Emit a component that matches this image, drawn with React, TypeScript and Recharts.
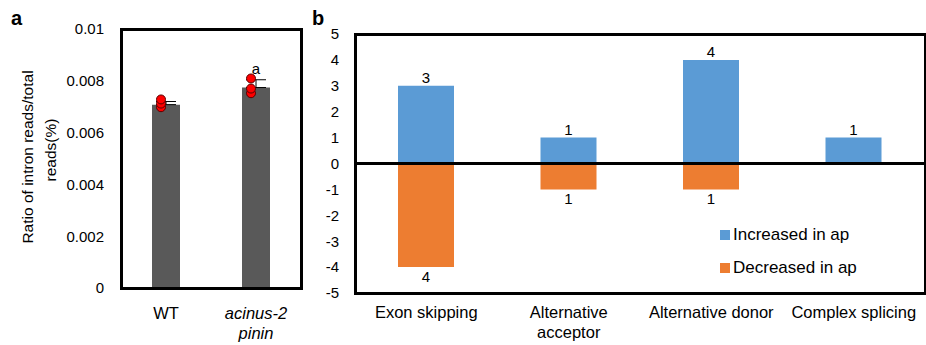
import {
  Bar,
  ComposedChart,
  ErrorBar,
  LabelList,
  ReferenceLine,
  Scatter,
  XAxis,
  YAxis,
} from "recharts";

// panel a: intron read ratio
const GROUPS = ["WT", "acinus-2\npinin"];
const GROUP_ITALIC = [false, true];
const RATIO = [0.00708, 0.00774];
const RATIO_ERR = [0.00012, 0.0003];
const REP1 = [0.00728, 0.00809];
const REP2 = [0.00712, 0.0077];
const REP3 = [0.00698, 0.00752];
const SIG = ["", "a"];
const RATIO_TICKS = [0, 0.002, 0.004, 0.006, 0.008, 0.01];

// panel b: splicing events
const EVENTS = ["Exon skipping", "Alternative\nacceptor", "Alternative donor", "Complex splicing"];
const INCREASED = [3, 1, 4, 1];
const DECREASED = [4, 1, 1, 0];
const COUNT_TICKS = [-5, -4, -3, -2, -1, 0, 1, 2, 3, 4, 5];
const SERIES_NAMES = ["Increased in ap", "Decreased in ap"];

const FONT = '"Liberation Sans", Arial, sans-serif';
const BLUE = "#5B9BD5";
const ORANGE = "#ED7D31";
const SERIES_COLORS = [BLUE, ORANGE];

const H = 345;

// layout of the two panels (chart box, margins, axis sizes)
const A = { left: 0, width: 310, top: 29, right: 9, yAxisW: 121, xAxisH: 57 };
const B = { left: 300, width: 626, top: 34, right: 1, yAxisW: 55, xAxisH: 52 };

const dataA = GROUPS.map((name, i) => ({
  name,
  ratio: RATIO[i],
  err: [0, RATIO_ERR[i]],
  r1: REP1[i],
  r2: REP2[i],
  r3: REP3[i],
  sig: SIG[i],
}));

const dataB = EVENTS.map((name, i) => ({
  name,
  inc: INCREASED[i] || null,
  dec: DECREASED[i] ? -DECREASED[i] : null,
}));

// black box round a plot area, four filled strips computed from the panel layout
function PlotFrame({ p }: { p: typeof A }) {
  const bw = 3;
  const x0 = Math.round(p.left + p.yAxisW - bw / 2);
  const x1 = Math.round(p.left + p.width - p.right - bw / 2);
  const y0 = Math.round(p.top - bw / 2);
  const y1 = Math.round(H - p.xAxisH - bw / 2);
  const strip = (left: number, top: number, width: number, height: number) => (
    <div
      style={{
        position: "absolute",
        left,
        top,
        width,
        height,
        background: "#000",
      }}
    />
  );
  return (
    <>
      {strip(x0, y0, x1 - x0 + bw, bw)}
      {strip(x0, y1, x1 - x0 + bw, bw)}
      {strip(x0, y0, bw, y1 - y0 + bw)}
      {strip(x1, y0, bw, y1 - y0 + bw)}
    </>
  );
}

function MultiLineTick({
  x,
  y,
  payload,
  dy0,
  italicFor,
}: {
  x?: number;
  y?: number;
  payload?: { value: string };
  dy0: number;
  italicFor?: (v: string) => boolean;
}) {
  const value = payload?.value ?? "";
  const lines = value.split("\n");
  const italic = italicFor ? italicFor(value) : false;
  return (
    <text
      x={x}
      y={(y ?? 0) + dy0}
      textAnchor="middle"
      fontSize={16.5}
      fontFamily={FONT}
      fontStyle={italic ? "italic" : "normal"}
      fill="#000"
    >
      {lines.map((l, k) => (
        <tspan key={k} x={x} dy={k === 0 ? 0 : 20}>
          {l}
        </tspan>
      ))}
    </text>
  );
}

function Dot(props: { cx?: number; cy?: number }) {
  if (props.cx == null || props.cy == null) return null;
  return (
    <circle cx={props.cx - 5} cy={props.cy} r={4.5} fill="#FF0000" stroke="#5a0000" strokeWidth={1} />
  );
}

const absLabel = (v: unknown) => (v == null || v === 0 ? "" : String(Math.abs(Number(v))));

export default function App() {
  return (
    <div
      style={{
        position: "absolute",
        left: 0,
        top: 0,
        width: 926,
        height: H,
        background: "#fff",
        fontFamily: FONT,
        overflow: "hidden",
      }}
    >
      <div style={{ position: "absolute", left: A.left, top: 0 }}>
        <ComposedChart
          width={A.width}
          height={H}
          data={dataA}
          margin={{ top: A.top, right: A.right, bottom: 0, left: 0 }}
        >
          <XAxis
            dataKey="name"
            height={A.xAxisH}
            axisLine={false}
            tickLine={false}
            tickSize={0}
            tickMargin={0}
            interval={0}
            tick={(p: any) => (
              <MultiLineTick {...p} dy0={31} italicFor={(v) => GROUP_ITALIC[GROUPS.indexOf(v)]} />
            )}
          />
          <YAxis
            width={A.yAxisW}
            domain={[0, 0.01]}
            ticks={RATIO_TICKS}
            tickFormatter={(v) => String(v)}
            axisLine={false}
            tickLine={false}
            tickSize={0}
            tickMargin={17}
            tick={{ fill: "#000", fontSize: 15, fontFamily: FONT }}
          />
          <Bar dataKey="ratio" fill="#595959" barSize={28} isAnimationActive={false}>
            <ErrorBar dataKey="err" width={10} stroke="#000" strokeWidth={1} direction="y" />
            <LabelList
              dataKey="sig"
              position="top"
              offset={14}
              fill="#000"
              fontSize={15}
              fontFamily={FONT}
            />
          </Bar>
          <Scatter dataKey="r3" shape={Dot} isAnimationActive={false} />
          <Scatter dataKey="r2" shape={Dot} isAnimationActive={false} />
          <Scatter dataKey="r1" shape={Dot} isAnimationActive={false} />
        </ComposedChart>
      </div>

      <div style={{ position: "absolute", left: B.left, top: 0 }}>
        <ComposedChart
          width={B.width}
          height={H}
          data={dataB}
          stackOffset="sign"
          margin={{ top: B.top, right: B.right, bottom: 0, left: 0 }}
        >
          <XAxis
            dataKey="name"
            height={B.xAxisH}
            axisLine={false}
            tickLine={false}
            tickSize={0}
            tickMargin={0}
            interval={0}
            tick={(p: any) => <MultiLineTick {...p} dy0={25} />}
          />
          <YAxis
            width={B.yAxisW}
            domain={[-5, 5]}
            ticks={COUNT_TICKS}
            interval={0}
            axisLine={false}
            tickLine={false}
            tickSize={0}
            tickMargin={16}
            tick={{ fill: "#000", fontSize: 15, fontFamily: FONT }}
          />
          <Bar
            dataKey="inc"
            name={SERIES_NAMES[0]}
            stackId="s"
            fill={BLUE}
            barSize={56}
            isAnimationActive={false}
          >
            <LabelList
              dataKey="inc"
              position="top"
              offset={3}
              formatter={absLabel}
              fill="#000"
              fontSize={15}
              fontFamily={FONT}
            />
          </Bar>
          <Bar
            dataKey="dec"
            name={SERIES_NAMES[1]}
            stackId="s"
            fill={ORANGE}
            barSize={56}
            isAnimationActive={false}
          >
            <LabelList
              dataKey="dec"
              position="top"
              offset={4}
              formatter={absLabel}
              fill="#000"
              fontSize={15}
              fontFamily={FONT}
            />
          </Bar>
          <ReferenceLine y={0} stroke="#000" strokeWidth={3} ifOverflow="visible" />
        </ComposedChart>
      </div>

      <PlotFrame p={A} />
      <PlotFrame p={B} />

      {/* legend for panel b, sits inside the plot area */}
      <div
        style={{
          position: "absolute",
          left: 720,
          top: 218,
          fontFamily: FONT,
          fontSize: 17,
          color: "#000",
        }}
      >
        {SERIES_NAMES.map((n, i) => (
          <div key={n} style={{ display: "flex", alignItems: "center", height: 33 }}>
            <span
              style={{ width: 10, height: 10, background: SERIES_COLORS[i], marginRight: 3 }}
            />
            <span>{n}</span>
          </div>
        ))}
      </div>

      <svg
        width={926}
        height={H}
        style={{ position: "absolute", left: 0, top: 0, pointerEvents: "none" }}
      >
        <text x={11} y={25} fontSize={20} fontWeight="bold" fontFamily={FONT} fill="#000">
          a
        </text>
        <text x={312} y={25} fontSize={20} fontWeight="bold" fontFamily={FONT} fill="#000">
          b
        </text>
        <text
          x={27}
          y={157}
          transform="rotate(-90 27 157)"
          textAnchor="middle"
          dominantBaseline="central"
          fontSize={15.5}
          fontFamily={FONT}
          fill="#000"
        >
          Ratio of intron reads/total
        </text>
        <text
          x={50}
          y={150}
          transform="rotate(-90 50 150)"
          textAnchor="middle"
          dominantBaseline="central"
          fontSize={15.5}
          fontFamily={FONT}
          fill="#000"
        >
          reads(%)
        </text>
      </svg>
    </div>
  );
}
